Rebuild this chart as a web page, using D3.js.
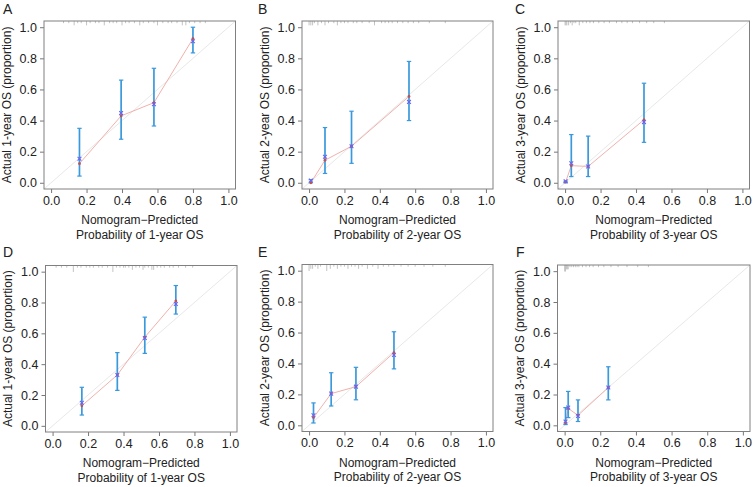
<!DOCTYPE html>
<html><head><meta charset="utf-8">
<script src="https://cdn.jsdelivr.net/npm/d3@7"></script>
<style>
body{margin:0;background:#fff}
svg{display:block}
text{font-family:"Liberation Sans",Arial,Helvetica,sans-serif;fill:#222}
</style>
</head><body>
<svg id="chart" width="753" height="487"></svg>
<script>
// ---------- DATA ----------
const panelLetters = ["A","B","C","D","E","F"];
const horizons = ["1-year","2-year","3-year","1-year","2-year","3-year"];
const tickValues = [0, 0.2, 0.4, 0.6, 0.8, 1.0];
const tickLabels = ["0.0","0.2","0.4","0.6","0.8","1.0"];

// nomogram-predicted probability of each group (one list per panel)
const predicted = [
  [0.16, 0.395, 0.58, 0.80],
  [0.01, 0.09, 0.24, 0.565],
  [0.003, 0.035, 0.13, 0.445],
  [0.165, 0.365, 0.52, 0.695],
  [0.025, 0.125, 0.265, 0.48],
  [0.005, 0.02, 0.075, 0.245]
];
// observed (apparent) proportion
const observed = [
  [0.123, 0.43, 0.515, 0.927],
  [0.0, 0.145, 0.235, 0.555],
  [0.005, 0.11, 0.105, 0.405],
  [0.13, 0.33, 0.575, 0.81],
  [0.05, 0.205, 0.25, 0.47],
  [0.015, 0.11, 0.065, 0.245]
];
// bias-corrected proportion
const corrected = [
  [0.155, 0.448, 0.505, 0.91],
  [0.015, 0.167, 0.235, 0.52],
  [0.01, 0.125, 0.105, 0.39],
  [0.15, 0.33, 0.57, 0.79],
  [0.065, 0.205, 0.25, 0.455],
  [0.025, 0.115, 0.06, 0.245]
];
// confidence limits
const lower = [
  [0.043, 0.28, 0.365, 0.835],
  [0.0, 0.06, 0.125, 0.40],
  [0.0, 0.04, 0.04, 0.26],
  [0.07, 0.23, 0.47, 0.725],
  [0.015, 0.125, 0.165, 0.365],
  [0.005, 0.05, 0.025, 0.165]
];
const upper = [
  [0.35, 0.66, 0.736, 1.0],
  [0.02, 0.355, 0.46, 0.78],
  [0.01, 0.31, 0.30, 0.64],
  [0.25, 0.475, 0.705, 0.91],
  [0.145, 0.34, 0.375, 0.605],
  [0.115, 0.22, 0.165, 0.38]
];
// distribution of predicted probabilities (rug at top), and relative frequency
const rugX = [
  [0.07,0.10,0.13,0.15,0.17,0.20,0.22,0.25,0.27,0.30,0.33,0.35,0.37,0.40,0.42,0.44,0.47,0.50,0.52,0.55,0.58,0.60,0.63,0.66,0.68,0.71,0.74,0.76,0.78,0.81,0.84,0.87],
  [0.00,0.01,0.02,0.03,0.05,0.07,0.09,0.11,0.14,0.16,0.18,0.20,0.22,0.25,0.27,0.30,0.34,0.37,0.41,0.43,0.45,0.47,0.50,0.53,0.56,0.59,0.62,0.68,0.77],
  [0.00,0.005,0.01,0.02,0.03,0.04,0.05,0.06,0.08,0.10,0.12,0.14,0.16,0.19,0.22,0.25,0.29,0.32,0.35,0.38,0.42,0.46,0.50,0.56],
  [0.02,0.05,0.08,0.117,0.14,0.16,0.19,0.21,0.23,0.26,0.28,0.31,0.34,0.36,0.38,0.40,0.41,0.43,0.45,0.47,0.49,0.51,0.52,0.54,0.56,0.57,0.59,0.61,0.63,0.66,0.68,0.71,0.75,0.79],
  [0.00,0.01,0.02,0.035,0.05,0.065,0.10,0.12,0.14,0.16,0.18,0.20,0.22,0.24,0.26,0.28,0.30,0.33,0.36,0.39,0.42,0.45,0.48,0.52,0.56,0.60,0.65,0.70,0.77],
  [0.00,0.005,0.01,0.015,0.02,0.03,0.04,0.05,0.06,0.07,0.08,0.10,0.12,0.14,0.16,0.19,0.22,0.26,0.30,0.35,0.41,0.47]
];
const rugN = [
  [1,1,2,1,1,2,1,1,1,2,1,1,1,2,1,1,1,2,1,1,1,2,1,1,1,1,2,2,1,1,1,1],
  [2,2,2,1,2,1,2,1,1,2,1,1,1,1,1,1,1,2,1,1,1,1,1,1,1,1,1,1,1],
  [2,2,2,2,1,2,1,1,2,1,1,1,1,1,1,1,1,1,1,1,1,1,1,1],
  [1,1,1,3,1,1,1,1,1,1,1,1,3,1,1,1,1,1,2,1,1,2,1,1,2,2,1,1,1,1,1,1,1,1],
  [3,2,2,1,2,1,3,2,1,2,1,1,2,1,1,2,1,2,1,2,1,1,1,1,1,1,1,1,1],
  [3,3,2,2,2,1,1,1,1,1,1,1,1,1,1,1,1,1,1,1,1,1]
];

// ---------- LAYOUT ----------
const boxes = [
  {l:44,   r:235.5, t:21,    b:189,   lx:3,   ly:14},
  {l:302,  r:493,   t:21,    b:189,   lx:258, ly:14},
  {l:558,  r:749.5, t:21,    b:189,   lx:515, ly:14},
  {l:45.5, r:237,   t:265.5, b:432,   lx:3,   ly:257},
  {l:302,  r:493,   t:264.5, b:431.5, lx:258, ly:257},
  {l:557.5,r:750,   t:265,   b:431.5, lx:516, ly:257}
];

const svg = d3.select("#chart");
const rugLen = d3.scaleLinear().domain([0, 3]).range([0, 6.5]);

boxes.forEach((bx, i) => {
  const x = d3.scaleLinear().domain([-0.04, 1.04]).range([bx.l, bx.r]);
  const y = d3.scaleLinear().domain([-0.04, 1.04]).range([bx.b, bx.t]);
  const g = svg.append("g");

  // ideal diagonal
  g.append("line")
    .attr("x1", x(-0.04)).attr("y1", y(-0.04))
    .attr("x2", x(1.04)).attr("y2", y(1.04))
    .attr("stroke", "#e8e8e8").attr("stroke-width", 1);

  // rug at top
  g.selectAll("line.rug").data(rugX[i].map((v, k) => [v, rugN[i][k]]))
    .enter().append("line").attr("class", "rug")
    .attr("x1", d => x(d[0])).attr("x2", d => x(d[0]))
    .attr("y1", bx.t).attr("y2", d => bx.t + rugLen(d[1]))
    .attr("stroke", "#b4b4b4").attr("stroke-width", 0.8);

  // axes
  const xAxis = d3.axisBottom(x).tickValues(tickValues)
    .tickFormat((d, k) => tickLabels[k]).tickSize(4).tickPadding(3);
  const yAxis = d3.axisLeft(y).tickValues(tickValues)
    .tickFormat((d, k) => tickLabels[k]).tickSize(4).tickPadding(3);
  const gx = g.append("g").attr("transform", `translate(0,${bx.b})`).call(xAxis);
  const gy = g.append("g").attr("transform", `translate(${bx.l},0)`).call(yAxis);
  [gx, gy].forEach(a => {
    a.select(".domain").remove();
    a.selectAll(".tick line").attr("stroke", "#777");
    a.selectAll(".tick text").style("font-size", "12.5px")
      .style("font-family", '"Liberation Sans",Arial,sans-serif').attr("fill", "#222");
  });

  // box
  g.append("rect").attr("x", bx.l).attr("y", bx.t)
    .attr("width", bx.r - bx.l).attr("height", bx.b - bx.t)
    .attr("fill", "none").attr("stroke", "#808080").attr("stroke-width", 1);

  // apparent line
  const pts = predicted[i].map((p, k) => ({p, o: observed[i][k], c: corrected[i][k], lo: lower[i][k], hi: upper[i][k]}));
  g.append("path").datum(pts)
    .attr("d", d3.line().x(d => x(d.p)).y(d => y(d.o)))
    .attr("fill", "none").attr("stroke", "#eea8a2").attr("stroke-width", 0.9);

  // error bars
  const eb = g.selectAll("g.eb").data(pts).enter().append("g").attr("class", "eb");
  eb.append("line").attr("x1", d => x(d.p)).attr("x2", d => x(d.p))
    .attr("y1", d => y(d.lo)).attr("y2", d => y(d.hi))
    .attr("stroke", "#3a99dc").attr("stroke-width", 1.7);
  eb.append("line").attr("x1", d => x(d.p) - 2.2).attr("x2", d => x(d.p) + 2.2)
    .attr("y1", d => y(d.lo)).attr("y2", d => y(d.lo))
    .attr("stroke", "#3a99dc").attr("stroke-width", 1.2);
  eb.append("line").attr("x1", d => x(d.p) - 2.2).attr("x2", d => x(d.p) + 2.2)
    .attr("y1", d => y(d.hi)).attr("y2", d => y(d.hi))
    .attr("stroke", "#3a99dc").attr("stroke-width", 1.2);

  // observed markers
  g.selectAll("circle.obs").data(pts).enter().append("circle").attr("class", "obs")
    .attr("cx", d => x(d.p)).attr("cy", d => y(d.o)).attr("r", 1.4)
    .attr("fill", "#c4504a");
  // corrected markers (x)
  const s = 1.9;
  g.selectAll("path.cor").data(pts).enter().append("path").attr("class", "cor")
    .attr("d", d => `M${x(d.p)-s},${y(d.c)-s}L${x(d.p)+s},${y(d.c)+s}M${x(d.p)-s},${y(d.c)+s}L${x(d.p)+s},${y(d.c)-s}`)
    .attr("stroke", "#6a64f0").attr("stroke-width", 1.1).attr("fill", "none");

  // titles
  const cx = (bx.l + bx.r) / 2, cy = (bx.t + bx.b) / 2;
  g.append("text").attr("x", cx).attr("y", bx.b + 35).attr("text-anchor", "middle")
    .style("font-size", "12px").text("Nomogram\u2212Predicted");
  g.append("text").attr("x", cx).attr("y", bx.b + 49.5).attr("text-anchor", "middle")
    .style("font-size", "12px").text(`Probability of ${horizons[i]} OS`);
  g.append("text").attr("transform", `translate(${bx.l - 33.5},${cy}) rotate(-90)`)
    .attr("text-anchor", "middle").style("font-size", "12px")
    .text(`Actual ${horizons[i]} OS (proportion)`);

  // panel letter
  g.append("text").attr("x", bx.lx).attr("y", bx.ly).style("font-size", "14px")
    .attr("fill", "#111").text(panelLetters[i]);
});
</script>
</body></html>
